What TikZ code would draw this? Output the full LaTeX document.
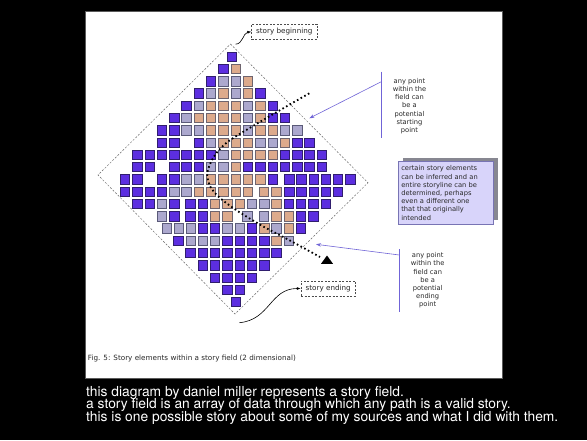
\documentclass[tikz,border=0pt]{standalone}
\usepackage{fontspec}
\setmainfont{DejaVu Sans}
\newfontfamily\helvfont{TeX Gyre Heros}
\usetikzlibrary{arrows.meta}
\definecolor{fillB}{RGB}{92,46,224}
\definecolor{lineB}{RGB}{48,30,110}
\definecolor{fillT}{RGB}{221,170,140}
\definecolor{lineT}{RGB}{110,100,110}
\definecolor{fillG}{RGB}{172,168,206}
\definecolor{lineG}{RGB}{90,90,120}
\definecolor{violetline}{RGB}{112,100,215}
\definecolor{boxfill}{RGB}{216,212,250}
\definecolor{boxline}{RGB}{120,116,180}
\definecolor{shadowgray}{RGB}{135,135,145}
\definecolor{diagtext}{RGB}{40,40,40}
\definecolor{panelline}{RGB}{90,90,90}
\newcommand\sqrow[2]{\foreach \xx/\cc in {#2}{\path[fill=fill\cc,draw=line\cc,line width=0.8pt] (\xx-4.7,#1-4.7) rectangle ++(9.4,9.4);}}
\newcommand\bluerow[2]{\foreach \xx in {#2}{\path[fill=fillB,draw=lineB,line width=0.8pt] (\xx-4.7,#1-4.7) rectangle ++(9.4,9.4);}}
\tikzset{
 dashframe/.style={draw=black!60, dash pattern=on 2pt off 1.6pt, line width=0.45pt},
 labelbox/.style={draw=black!70, dash pattern=on 2pt off 1.5pt, line width=0.6pt, font=\fontsize{7.2}{8}\selectfont, text=diagtext, inner sep=0pt},
 annot/.style={align=center, font=\fontsize{6.7}{8.2}\selectfont, text=diagtext, inner sep=0pt},
 violetarrow/.style={draw=violetline, line width=0.6pt, -{Stealth[length=5pt,width=3.5pt]}},
 violetrule/.style={draw=violetline, line width=0.6pt},
 blackcurve/.style={draw=black, line width=0.6pt, -{Latex[length=4pt,width=3pt]}},
 pathdots/.style={draw=black, line width=1.8pt, dash pattern=on 1.6pt off 2.6pt},
 bottomtext/.style={text=white, font=\helvfont\fontsize{13.8}{12.7}\selectfont, inner sep=0pt, anchor=base west},
 infobox/.style={fill=boxfill, draw=boxline, line width=0.6pt, minimum width=95pt, minimum height=62.6pt, text width=89pt, align=left, inner sep=0pt, font=\fontsize{6.7}{8.2}\selectfont, text=diagtext},
 captiontext/.style={font=\fontsize{7.2}{8}\selectfont, text=diagtext, inner sep=0pt, anchor=base west}
}
\begin{document}
\begin{tikzpicture}[x=1pt,y=-1pt]
\useasboundingbox (0,0) rectangle (587,440);
\fill[black] (0,0) rectangle (587,440);
\path[fill=white, draw=panelline, line width=1pt] (85.5,11) rectangle (502,378.5);

% diamond outline
\coordinate (dT) at (230.5,44);
\coordinate (dR) at (368,182.7);
\coordinate (dB) at (235,314);
\coordinate (dL) at (98,175);
\draw[dashframe] (dT) -- (dR) -- (dB) -- (dL) -- cycle;

% squares
\sqrow{56.7}{231.6/B}
\sqrow{69.0}{223.4/B,235.7/T}
\sqrow{81.2}{211.1/B,223.4/G,235.7/G,248/T}
\sqrow{93.5}{198.8/B,211.1/G,223.4/T,235.7/G,248/T,260.3/B}
\sqrow{105.8}{186.5/B,198.8/G,211.1/T,223.4/T,235.7/T,248/G,260.3/T,272.6/B}
\sqrow{118.1}{174.2/B,186.5/G,198.8/T,211.1/T,223.4/T,235.7/T,248/G,260.3/T,272.6/B,284.9/B}
\sqrow{130.3}{161.9/B,174.2/B,186.5/G,198.8/G,211.1/T,223.4/T,235.7/T,248/G,260.3/T,272.6/T,284.9/G,297.2/G}
\sqrow{142.6}{161.9/B,174.2/B,198.8/B,211.1/G,223.4/T,235.7/T,248/T,260.3/G,272.6/G,284.9/T,297.2/B,309.5/B}
\sqrow{154.9}{137.3/B,149.6/B,161.9/B,174.2/B,186.5/B,198.8/B,211.1/B,223.4/G,235.7/T,248/T,260.3/T,272.6/T,284.9/B,297.2/B,309.5/B,321.8/B}
\sqrow{167.1}{137.3/B,149.6/B,174.2/B,186.5/B,198.8/B,211.1/G,223.4/G,235.7/T,248/B,260.3/B,272.6/B,284.9/B,297.2/B,309.5/B,321.8/B}
\sqrow{179.4}{125/B,137.3/B,161.9/B,174.2/B,186.5/G,198.8/G,211.1/T,223.4/T,235.7/T,248/T,260.3/T,272.6/B,289.3/B,301.5/B,313.6/B,325.8/B,338/B,350.3/B}
\sqrow{191.7}{125/B,137.3/B,149.6/B,161.9/B,174.2/G,186.5/G,198.8/T,211.1/T,223.4/T,235.7/T,248/T,264/T,276.3/T,289.3/B,301.5/B,313.6/B,325.8/B,338/B}
\sqrow{204.0}{137.3/B,149.6/B,161.9/G,174.2/B,190.5/B,202.8/B,215/T,227.3/T,239.6/T,251.9/G,264.2/G,276.5/T,288.8/B,301.1/B,313.4/B,325.7/B}
\sqrow{216.2}{161.9/G,174.2/B,190.5/B,202.8/B,215/T,227.3/T,247.5/G,264/G,276.3/T,288.6/T,301/B,313.3/B}
\sqrow{228.5}{166.7/G,178.8/G,190.8/G,202.8/B,215/B,227.3/G,239.6/G,251.9/B,264.2/T,276.4/G,288.8/T,301/B}
\sqrow{240.8}{178.5/B,190.7/G,202.8/G,215/G,227.3/B,239.6/B,251.9/B,264.2/B,276.5/T,289/G}
\bluerow{253.0}{190.5,202.8,215,227.3,239.6,251.9,264.2,276.5}
\bluerow{265.3}{202.8,215,227.3,239.6,251.9,264.2}
\bluerow{277.6}{215,227.3,239.6,251.9}
\bluerow{289.9}{227.3,239.6}
\bluerow{302.1}{235.7}

% dotted story path and end triangle
\coordinate (pStart) at (309.3,93.3);
\coordinate (pEnd) at (320,257);
\draw[pathdots] plot[smooth, tension=0.5] coordinates {(pStart) (270,116) (231.7,139) (218,151) (210.5,163) (207.2,174) (209.5,185) (215,193) (223,200.5) (238.3,211.5) (263.3,226.5) (290,240.5) (pEnd)};
\coordinate (triTip) at (327,255.5);
\fill[black] (321,263.8) -- (triTip) -- (333,263.8) -- cycle;

% story beginning / ending
\node[labelbox, minimum width=65.3pt, minimum height=15.3pt] (sb) at (284.3,31.7) {story beginning};
\coordinate (sbFrom) at (235.5,44.2);
\draw[blackcurve] (sbFrom) .. controls (243,44) and (243,33) .. (sb.west);
\node[labelbox, minimum width=54.3pt, minimum height=15pt] (se) at (328.2,288.5) {story ending};
\coordinate (seFrom) at (239.3,322.7);
\draw[blackcurve] (seFrom) .. controls (270,320) and (270,288.5) .. (se.west);

% annotation: starting point
\node[annot] (a1) at (409.5,106) {any point\\within the\\field can\\be a\\potential\\starting\\point};
\coordinate (r1top) at (381.3,71.7);
\coordinate (r1bot) at (381.3,138.3);
\coordinate (r1arr) at (381.3,81.7);
\coordinate (r1tip) at (309.3,118.3);
\draw[violetrule] (r1top) -- (r1bot);
\draw[violetarrow] (r1arr) -- (r1tip);

% annotation: ending point
\node[annot] (a2) at (427.7,280.5) {any point\\within the\\field can\\be a\\potential\\ending\\point};
\coordinate (r2top) at (399.3,249.3);
\coordinate (r2bot) at (399.3,311.7);
\coordinate (r2arr) at (399.3,255);
\coordinate (r2tip) at (316,244.3);
\draw[violetrule] (r2top) -- (r2bot);
\draw[violetarrow] (r2arr) -- (r2tip);

% info box with shadow
\fill[shadowgray] (402.8,157.6) rectangle (497.8,220.2);
\node[infobox] (info) at (445.8,193) {certain story elements\\can be inferred and an\\entire storyline can be\\determined, perhaps\\even a different one\\that that originally\\intended};

% caption
\node[captiontext] (cap) at (87.7,360) {Fig. 5: Story elements within a story field (2 dimensional)};

% bottom text
\node[bottomtext] (t1) at (86,396) {this diagram by daniel miller represents a story field.};
\node[bottomtext] (t2) at (86,408.7) {a story field is an array of data through which any path is a valid story.};
\node[bottomtext] (t3) at (86,421.4) {this is one possible story about some of my sources and what I did with them.};
\end{tikzpicture}
\end{document}
